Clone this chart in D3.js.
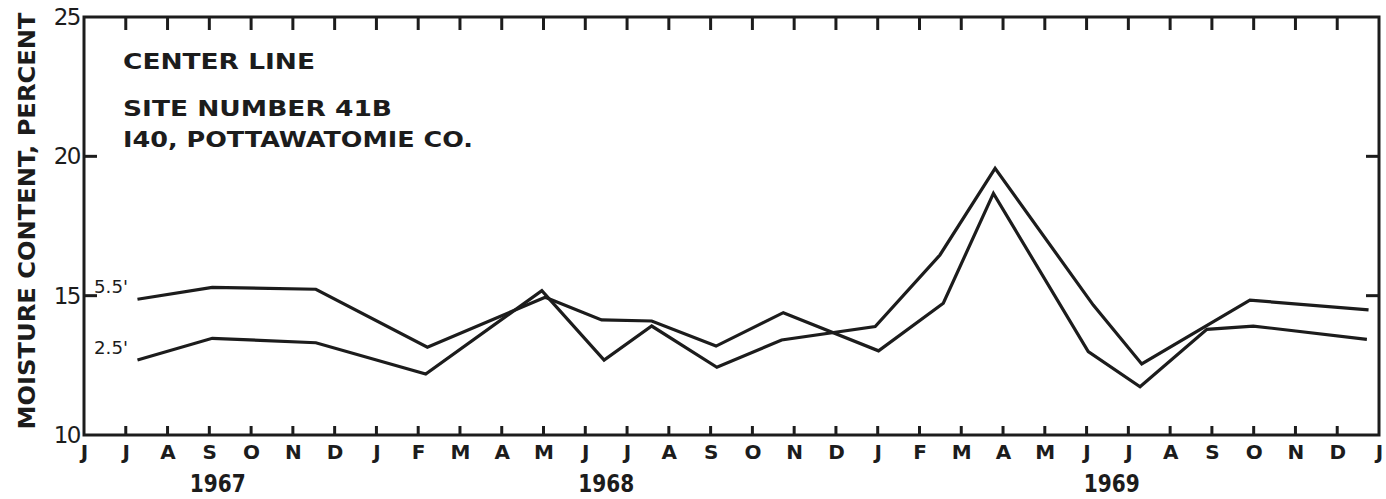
<!DOCTYPE html>
<html>
<head>
<meta charset="utf-8">
<script src="https://cdnjs.cloudflare.com/ajax/libs/d3/7.8.5/d3.min.js"></script>
<style>
  body { margin: 0; background: #fff; }
  svg { display: block; font-family: "DejaVu Sans", sans-serif; fill: #1c1c1c; }
  .tick text { fill: #1c1c1c; }
</style>
</head>
<body>
<svg id="chart" width="1386" height="499"></svg>
<script>
  // month labels along the bottom, June 1967 .. January 1970
  var monthLabels = ["J","J","A","S","O","N","D",
                     "J","F","M","A","M","J","J","A","S","O","N","D",
                     "J","F","M","A","M","J","J","A","S","O","N","D",
                     "J"];
  var yearLabels = ["1967", "1968", "1969"];
  var yearMonth = [3.2, 12.5, 24.6];
  var yTicks = [10, 15, 20, 25];

  // sample dates as months after 1 June 1967, moisture in percent
  var month55 = [1.28, 3.07, 5.55, 8.22, 11.04, 12.39, 13.59, 15.13, 16.74, 19.02, 20.57, 21.77, 24.04, 25.28, 26.88, 27.99, 30.71];
  var moisture55 = [14.87, 15.30, 15.23, 13.15, 14.94, 14.13, 14.09, 13.19, 14.39, 13.02, 14.73, 18.67, 12.99, 11.73, 13.79, 13.91, 13.43];
  var month25 = [1.28, 3.07, 5.55, 8.18, 10.96, 12.45, 13.59, 15.15, 16.70, 18.94, 20.49, 21.81, 24.16, 25.32, 27.91, 30.75];
  var moisture25 = [12.69, 13.47, 13.31, 12.19, 15.18, 12.69, 13.91, 12.43, 13.41, 13.89, 16.46, 19.57, 14.66, 12.55, 14.84, 14.49];

  var svg = d3.select("#chart"),
      margin = {top: 17, right: 7, bottom: 64, left: 84},
      width = 1386 - margin.left - margin.right,
      height = 499 - margin.top - margin.bottom,
      ink = "#1c1c1c";

  var g = svg.append("g")
      .attr("transform", "translate(" + margin.left + "," + margin.top + ")");

  var x = d3.scaleLinear().domain([0, monthLabels.length - 1]).range([0, width]);
  var y = d3.scaleLinear().domain([10, 25]).range([height, 0]);

  // bottom axis: month letters only, tick marks drawn separately
  var xAxis = d3.axisBottom(x)
      .tickValues(d3.range(monthLabels.length))
      .tickSize(0)
      .tickPadding(10)
      .tickFormat(function(i) { return monthLabels[i]; });

  g.append("g")
      .attr("class", "axisBottom")
      .attr("transform", "translate(0," + height + ")")
      .call(xAxis)
      .call(function(a) {
          a.select(".domain").remove();
          a.selectAll("line").remove();
          a.selectAll("text").attr("font-size", 20).attr("font-weight", "bold")
              .attr("font-family", "DejaVu Sans");
      });

  g.append("g")
      .attr("class", "axisLeft")
      .call(d3.axisLeft(y).tickValues(yTicks).tickSize(0).tickPadding(4))
      .call(function(a) {
          a.select(".domain").remove();
          a.selectAll("line").remove();
          a.selectAll("text").attr("font-size", 23).attr("font-family", "DejaVu Sans")
              .attr("letter-spacing", -1.5);
      });

  // frame
  g.append("rect")
      .attr("width", width)
      .attr("height", height)
      .style("fill", "none")
      .attr("stroke", ink)
      .attr("stroke-width", 3);

  // inward tick marks on all four sides
  var inner = d3.range(1, monthLabels.length - 1);
  var ticks = g.append("g")
      .attr("class", "tickMarks")
      .attr("stroke", ink)
      .attr("stroke-width", 3);

  ticks.selectAll("line.tb").data(inner).enter().append("line")
      .attr("class", "tb")
      .attr("x1", function(d) { return x(d); })
      .attr("x2", function(d) { return x(d); })
      .attr("y1", height)
      .attr("y2", height - 9);

  ticks.selectAll("line.tt").data(inner).enter().append("line")
      .attr("class", "tt")
      .attr("x1", function(d) { return x(d); })
      .attr("x2", function(d) { return x(d); })
      .attr("y1", 0)
      .attr("y2", 13);

  ticks.selectAll("line.tl").data([15, 20]).enter().append("line")
      .attr("class", "tl")
      .attr("x1", 0)
      .attr("x2", 13)
      .attr("y1", function(d) { return y(d); })
      .attr("y2", function(d) { return y(d); });

  ticks.selectAll("line.tr").data([15, 20]).enter().append("line")
      .attr("class", "tr")
      .attr("x1", width - 13)
      .attr("x2", width)
      .attr("y1", function(d) { return y(d); })
      .attr("y2", function(d) { return y(d); });

  // year labels
  g.selectAll(".year")
      .data(yearLabels)
      .enter().append("text")
      .attr("class", "year")
      .attr("x", function(d, i) { return x(yearMonth[i]); })
      .attr("y", height + 57)
      .attr("text-anchor", "middle")
      .attr("font-size", 24)
      .attr("font-weight", "bold")
      .attr("textLength", 56)
      .attr("lengthAdjust", "spacingAndGlyphs")
      .text(function(d) { return d; });

  // the two depth lines
  var line = d3.line()
      .x(function(d) { return x(d[0]); })
      .y(function(d) { return y(d[1]); });

  var series = [
      {name: "5.5'", pts: d3.zip(month55, moisture55)},
      {name: "2.5'", pts: d3.zip(month25, moisture25)}
  ];

  g.selectAll(".depth")
      .data(series)
      .enter().append("path")
      .attr("class", "depth")
      .attr("d", function(d) { return line(d.pts); })
      .style("fill", "none")
      .attr("stroke", ink)
      .attr("stroke-width", 3.2)
      .attr("stroke-linejoin", "miter");

  // depth labels at the start of each line
  g.selectAll(".depthLabel")
      .data(series)
      .enter().append("text")
      .attr("class", "depthLabel")
      .attr("x", 10)
      .attr("y", function(d) { return y(d.pts[0][1]) - 6; })
      .attr("font-size", 18)
      .attr("textLength", 34)
      .attr("lengthAdjust", "spacingAndGlyphs")
      .text(function(d) { return d.name; });

  // site notes
  var notes = [
      {t: "CENTER LINE", y: 52, w: 192},
      {t: "SITE NUMBER 41B", y: 99, w: 269},
      {t: "I40, POTTAWATOMIE CO.", y: 130, w: 350}
  ];
  g.selectAll(".note")
      .data(notes)
      .enter().append("text")
      .attr("class", "note")
      .attr("x", 39)
      .attr("y", function(d) { return d.y; })
      .attr("font-size", 22)
      .attr("font-weight", "bold")
      .attr("textLength", function(d) { return d.w; })
      .attr("lengthAdjust", "spacingAndGlyphs")
      .text(function(d) { return d.t; });

  // y axis title
  svg.append("text")
      .attr("transform", "translate(27,221) rotate(-90)")
      .attr("text-anchor", "middle")
      .attr("dy", "0.36em")
      .attr("font-size", 23)
      .attr("font-weight", "bold")
      .attr("textLength", 417)
      .attr("lengthAdjust", "spacingAndGlyphs")
      .text("MOISTURE CONTENT, PERCENT");
</script>
</body>
</html>
